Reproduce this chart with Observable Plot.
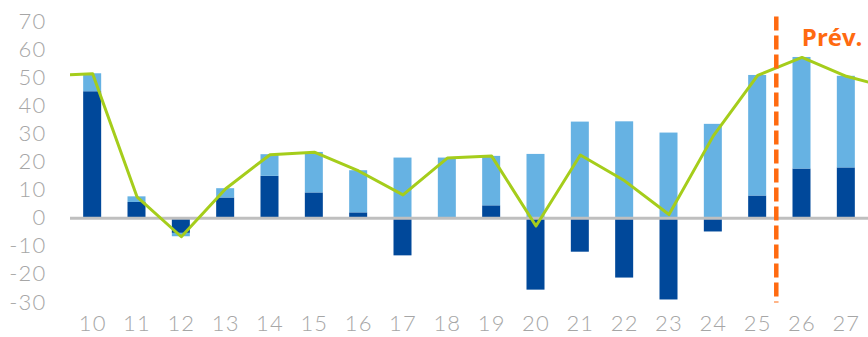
<!DOCTYPE html>
<html>
<head>
<meta charset="utf-8">
<script src="https://cdn.jsdelivr.net/npm/d3@7"></script>
<script src="https://cdn.jsdelivr.net/npm/@observablehq/plot@0.6"></script>
<style>
  html, body { margin: 0; padding: 0; background: #fff; }
  #chart svg { display: block; }
  #chart svg g[aria-label="y-axis tick label"] text,
  #chart svg g[aria-label="x-axis tick label"] text { letter-spacing: 1.2px; }
</style>
</head>
<body>
<div id="chart"></div>
<script>
// Years shown on the axis (20xx)
const years = [10, 11, 12, 13, 14, 15, 16, 17, 18, 19, 20, 21, 22, 23, 24, 25, 26, 27];
// Dark blue component
const partA = [45, 5.6, -5.4, 7.2, 14.9, 9.0, 1.9, -13.4, 0, 4.4, -25.6, -12.1, -21.3, -29.1, -4.9, 7.9, 17.5, 17.9];
// Light blue component
const partB = [6.4, 2.0, -1.2, 3.3, 7.7, 14.4, 15.0, 21.4, 21.4, 17.6, 22.7, 34.2, 34.3, 30.3, 33.4, 42.9, 39.7, 32.6];
// Total (green line), running one year beyond each end of the axis
const totalYears = [9, 10, 11, 12, 13, 14, 15, 16, 17, 18, 19, 20, 21, 22, 23, 24, 25, 26, 27, 28];
const total = [50.7, 51.4, 7.6, -6.6, 10.5, 22.6, 23.5, 16.8, 8.3, 21.4, 22.1, -2.8, 22.5, 13.3, 1.3, 29.3, 50.8, 57.2, 50.5, 46.3];
const yTicks = [-30, -20, -10, 0, 10, 20, 30, 40, 50, 60, 70];
const forecastStart = 25.42;
const forecastLabel = "Prév.";

const colA = "#00489a";
const colB = "#66b2e3";
const colLine = "#a5cd1b";
const colForecast = "#ff6a10";
const halfBar = 0.203;

// Stack the two components per year (positives upward, negatives downward)
const rects = [];
years.forEach((yr, i) => {
  let pos = 0, neg = 0;
  [[partA[i], "A"], [partB[i], "B"]].forEach(([v, s]) => {
    if (v >= 0) { rects.push({year: yr, s, y1: pos, y2: pos + v}); pos += v; }
    else { rects.push({year: yr, s, y1: neg, y2: neg + v}); neg += v; }
  });
});
const lineData = totalYears.map((yr, i) => ({year: yr, value: total[i]}));

const chart = Plot.plot({
  width: 868,
  height: 337,
  marginLeft: 70,
  marginRight: 0,
  marginTop: 21,
  marginBottom: 35,
  style: {fontFamily: "Lato, 'Open Sans', sans-serif", fontSize: "22px", fontWeight: 300, color: "#a6a6a6"},
  x: {type: "linear", domain: [9.5, 27.5]},
  y: {domain: [-30, 70]},
  color: {domain: ["A", "B"], range: [colA, colB]},
  marks: [
    Plot.rect(rects, {
      x1: d => d.year - halfBar,
      x2: d => d.year + halfBar,
      y1: "y1", y2: "y2",
      fill: "s"
    }),
    Plot.ruleY([0], {stroke: "#bfbfbf", strokeWidth: 3}),
    Plot.line(lineData, {x: "year", y: "value", stroke: colLine, strokeWidth: 3, clip: true}),
    Plot.ruleX([forecastStart], {y1: 71.6, y2: -30.2, stroke: colForecast, strokeWidth: 4.5, strokeDasharray: "14,5"}),
    Plot.text([forecastLabel], {
      x: 26.68, y: 64, text: d => d,
      fill: colForecast, fontSize: 24, fontWeight: "bold", fontFamily: "'Open Sans', sans-serif", textAnchor: "middle"
    }),
    Plot.axisY(yTicks, {tickSize: 0, tickPadding: 24, label: null, fill: "#a6a6a6", tickFormat: d => String(d)}),
    Plot.axisX(years, {tickSize: 0, tickPadding: 13, label: null, fill: "#a6a6a6", tickFormat: d => String(d)})
  ]
});
document.getElementById("chart").appendChild(chart);
</script>
</body>
</html>
